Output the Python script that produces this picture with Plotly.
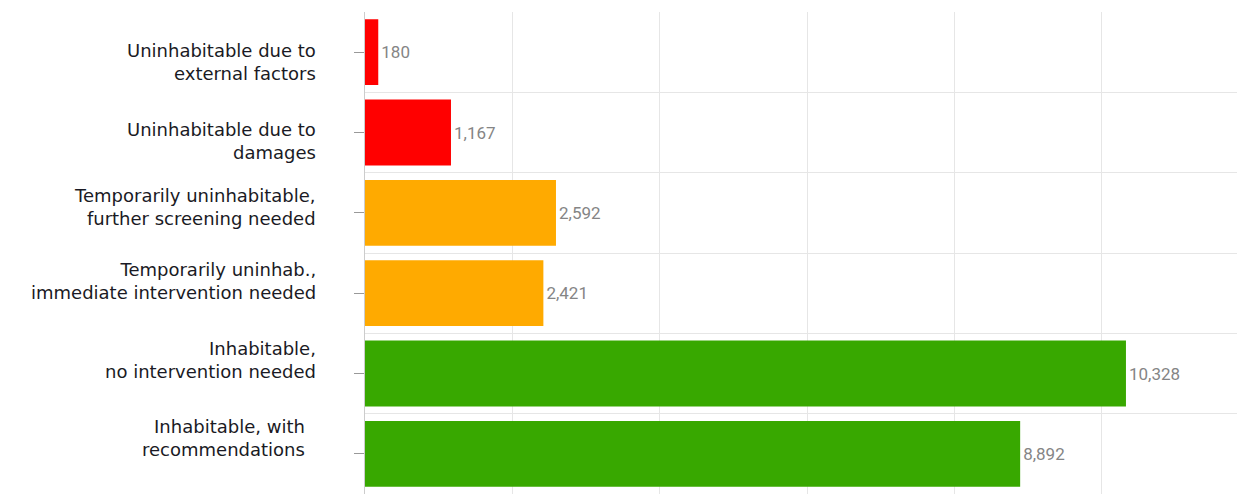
import plotly.graph_objects as go

categories = [
    "Uninhabitable due to<br>external factors",
    "Uninhabitable due to<br>damages",
    "Temporarily uninhabitable,<br>further screening needed",
    "Temporarily uninhab.,<br>immediate intervention needed",
    "Inhabitable,<br>no intervention needed",
    "Inhabitable, with\u00a0\u00a0<br>recommendations\u00a0\u00a0",
]
values = [180, 1167, 2592, 2421, 10328, 8892]
colors = ["#FF0000", "#FF0000", "#FFAA00", "#FFAA00", "#38A800", "#38A800"]
value_labels = [f"{v:,}" for v in values]

# vertical nudges of the category labels (style only)
label_yshift = [-10, -8, 6, 12, 14, 16]

positions = list(range(len(categories)))

fig = go.Figure(
    go.Bar(
        x=values,
        y=positions,
        orientation="h",
        marker=dict(color=colors, line=dict(width=0)),
        text=value_labels,
        textposition="outside",
        textfont=dict(family="Roboto", size=17, color="#858585"),
        cliponaxis=False,
        width=0.82,
    )
)

for p, lab, ys in zip(positions, categories, label_yshift):
    fig.add_annotation(
        x=0, xref="paper", xanchor="right", xshift=-47,
        y=p, yref="y", yanchor="middle", yshift=ys,
        text=lab, showarrow=False, align="right",
        font=dict(family="DejaVu Sans", size=18, color="#1a1a24"),
    )

fig.update_layout(
    width=1237,
    height=495,
    margin=dict(l=365, r=0, t=12, b=1),
    paper_bgcolor="white",
    plot_bgcolor="white",
    showlegend=False,
    font=dict(family="Open Sans"),
)

fig.update_xaxes(
    range=[0, 11835],
    dtick=2000,
    tick0=0,
    showgrid=True,
    gridcolor="#e6e6e6",
    gridwidth=1,
    showticklabels=False,
    zeroline=False,
    showline=False,
)

fig.update_yaxes(
    range=[len(categories) - 0.5, -0.5],
    tickmode="array",
    tickvals=positions,
    ticktext=[""] * len(positions),
    ticks="outside",
    ticklen=10,
    tickcolor="#999999",
    tickwidth=1,
    showgrid=False,
    zeroline=False,
    showline=True,
    linecolor="#cccccc",
    linewidth=1,
    minor=dict(
        tickmode="array",
        tickvals=[p - 0.5 for p in positions] + [len(categories) - 0.5],
        showgrid=True,
        gridcolor="#e6e6e6",
        gridwidth=1,
        ticks="",
    ),
)

fig.write_html(
    "out.html",
    config={"displayModeBar": False},
    post_script="document.body.style.margin='0';document.body.style.overflow='hidden';",
)
